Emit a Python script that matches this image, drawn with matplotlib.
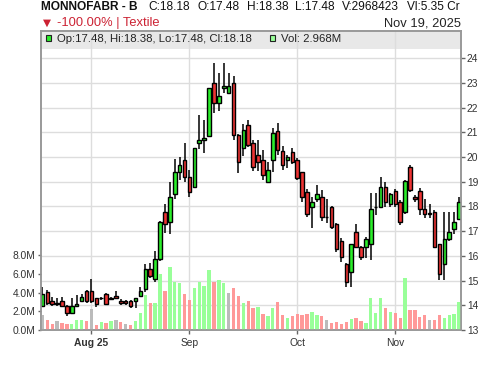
import matplotlib
matplotlib.use("Agg")
import matplotlib.pyplot as plt
from matplotlib.patches import Rectangle
from matplotlib.ticker import FixedLocator, FuncFormatter
import numpy as np

plt.rcParams['font.family'] = ['Liberation Sans', 'DejaVu Sans']

# ---------------- data ----------------
opens = [13.97, 14.55, 14.16, 14.08, 14.17, 13.97, 13.67, 13.97, 14.17, 14.57,
         14.57, 14.28, 14.28, 14.44, 14.27, 14.38, 14.16, 14.16, 14.16, 14.16,
         14.38, 14.65, 15.46, 15.05, 15.86, 17.76, 17.36, 18.50, 19.38, 19.87,
         19.18, 18.78, 20.56, 20.67, 20.87, 22.99, 22.18, 22.78, 22.58, 22.99,
         20.88, 20.35, 21.29, 20.56, 20.07, 19.87, 18.98, 19.87, 21.07, 20.26,
         19.87, 20.19, 19.87, 19.38, 18.57, 17.97, 18.29, 18.37, 17.57, 17.97,
         17.29, 16.59, 15.67, 15.36, 16.95, 16.37, 16.37, 16.47, 17.96, 17.97,
         18.78, 18.10, 18.64, 18.17, 17.76, 19.59, 18.37, 18.64, 17.89, 17.75,
         17.79, 16.47, 15.67, 16.67, 17.08, 17.48]
highs = [14.75, 14.62, 14.35, 14.30, 14.33, 14.00, 14.30, 14.40, 14.45, 14.62,
         15.05, 14.30, 14.35, 14.50, 14.33, 14.58, 14.25, 14.20, 14.20, 14.30,
         14.75, 15.66, 15.72, 16.20, 17.40, 18.10, 18.98, 19.90, 19.99, 20.56,
         19.48, 20.38, 21.70, 21.50, 22.80, 23.82, 23.39, 23.82, 23.42, 23.28,
         20.95, 21.35, 21.50, 20.67, 20.69, 20.29, 19.80, 21.16, 21.37, 20.45,
         20.10, 20.35, 19.95, 19.40, 18.70, 18.40, 18.87, 18.67, 18.30, 18.00,
         17.35, 16.71, 15.70, 16.50, 17.29, 16.40, 16.75, 18.53, 18.53, 19.20,
         19.00, 18.55, 18.70, 18.25, 19.08, 19.68, 18.45, 18.75, 18.29, 18.10,
         17.85, 16.50, 17.76, 17.76, 17.76, 18.38]
lows = [13.93, 14.02, 13.99, 13.97, 13.95, 13.55, 13.67, 13.95, 14.15, 14.10,
        14.10, 13.94, 14.20, 14.00, 14.22, 14.25, 14.00, 14.00, 13.88, 13.88,
        14.35, 14.55, 15.10, 14.96, 15.80, 16.94, 16.87, 18.29, 19.05, 18.98,
        18.37, 18.75, 20.33, 20.18, 20.80, 21.77, 21.88, 22.58, 22.55, 20.67,
        19.37, 20.06, 20.40, 19.45, 19.45, 19.05, 18.98, 19.38, 20.09, 19.48,
        19.55, 19.70, 19.07, 18.16, 17.59, 17.14, 18.20, 17.40, 17.35, 17.10,
        16.17, 15.77, 14.75, 14.75, 16.30, 15.83, 15.92, 15.84, 17.65, 17.95,
        17.97, 17.97, 17.97, 17.26, 17.70, 18.60, 18.20, 17.66, 17.52, 17.52,
        16.30, 15.02, 15.02, 16.60, 16.89, 17.48]
closes = [14.44, 14.08, 14.07, 14.07, 13.97, 13.67, 13.97, 14.05, 14.35, 14.17,
          14.17, 14.05, 14.30, 14.05, 14.28, 14.28, 14.08, 14.08, 13.97, 14.28,
          14.58, 15.46, 15.19, 15.86, 17.36, 17.29, 18.37, 19.38, 19.67, 19.18,
          18.57, 20.35, 20.69, 20.76, 22.78, 22.18, 22.46, 22.86, 22.86, 20.88,
          19.79, 21.08, 20.48, 19.59, 19.79, 19.26, 19.46, 20.96, 20.29, 19.67,
          19.99, 19.79, 19.17, 18.37, 17.68, 18.17, 18.49, 17.56, 17.56, 17.16,
          16.27, 15.94, 14.96, 16.47, 16.37, 15.94, 16.67, 17.89, 17.97, 18.78,
          18.17, 18.49, 18.10, 17.36, 19.05, 18.67, 18.29, 17.89, 17.70, 17.70,
          16.37, 15.27, 16.67, 16.98, 17.39, 18.18]
volumes_m = [1.62, 1.07, 0.64, 0.96, 0.78, 0.68, 0.66, 1.07, 1.07, 0.96,
             2.24, 0.55, 0.85, 0.76, 0.98, 1.07, 0.85, 0.64, 0.55, 0.96,
             1.81, 3.71, 2.90, 2.90, 5.98, 4.16, 6.74, 5.14, 5.03, 3.84,
             3.20, 4.50, 5.17, 4.65, 6.40, 5.14, 5.33, 5.03, 3.96, 4.50,
             3.65, 2.90, 3.09, 2.33, 2.43, 1.71, 1.49, 2.33, 3.00, 1.60,
             1.26, 1.49, 1.71, 1.60, 1.71, 1.92, 1.60, 1.49, 1.07, 0.78,
             0.87, 0.64, 0.87, 1.17, 1.28, 0.98, 0.75, 3.41, 1.81, 3.41,
             2.35, 1.92, 1.81, 1.28, 5.55, 2.13, 2.13, 1.39, 1.60, 1.07,
             1.07, 1.60, 1.28, 1.60, 1.71, 2.968]
month_tick_index = [10, 30, 52, 72]
month_tick_labels = ["Aug 25", "Sep", "Oct", "Nov"]
price_ticks = [13, 14, 15, 16, 17, 18, 19, 20, 21, 22, 23, 24]
volume_ticks = [0, 2, 4, 6, 8]

symbol = "MONNOFABR - B"
last_volume = 2968423
value_cr = "5.35"
change_text = "-100.00% | Textile"
date_text = "Nov 19, 2025"

# ---------------- figure ----------------
W, H = 500, 366
fig = plt.figure(figsize=(W / 100, H / 100), dpi=100)
L, R, T, B = 40.7, 460.7, 31, 330
ax = fig.add_axes([L / W, 1 - B / H, (R - L) / W, (B - T) / H])
axv = ax.twinx()

n = len(closes)
x = np.arange(n)
o = np.array(opens); c = np.array(closes); h = np.array(highs); l = np.array(lows)
v = np.array(volumes_m)

GREEN = '#2bee2b'
RED = '#ee3333'
VGREEN = '#99ff99'
VRED = '#ff9999'
VGREY = '#bbbbbb'

# volume bars
vcols = [VGREY]
for i in range(1, n):
    d = c[i] - c[i - 1]
    vcols.append(VGREY if abs(d) < 0.005 else (VGREEN if d > 0 else VRED))
axv.bar(x, v, width=0.68, color=vcols, linewidth=0, zorder=2)

# candles
ax.vlines(x, l, h, color='black', linewidth=1.1, zorder=3)
bot = np.minimum(o, c)
hgt = np.maximum(np.abs(c - o), 0.025)
ccols = [GREEN if c[i] >= o[i] else RED for i in range(n)]
ax.bar(x, hgt, bottom=bot, width=0.72, color=ccols, edgecolor='black',
       linewidth=1.0, zorder=4)

ax.set_xlim(-0.35, 85.35)
ax.set_ylim(13, 25.1)
axv.set_ylim(0, 31.9)

# grid
ax.set_axisbelow(True)
ax.yaxis.set_major_locator(FixedLocator(price_ticks))
ax.xaxis.set_major_locator(FixedLocator(month_tick_index))
ax.set_xticklabels(month_tick_labels)
ax.grid(True, color='#dddddd', linewidth=1.0)
ax.yaxis.tick_right()
axv.yaxis.tick_left()
axv.yaxis.set_major_locator(FixedLocator(volume_ticks))
axv.yaxis.set_major_formatter(FuncFormatter(lambda val, pos: f"{val:.1f}M"))
axv.grid(False)

for a in (ax, axv):
    for s in a.spines.values():
        s.set_color('#999999')
        s.set_linewidth(1.2)
ax.tick_params(axis='y', right=True, left=False, labelright=True, labelleft=False,
               length=3, width=1, color='#666666', pad=1.5, labelsize=7.4,
               labelcolor='#333333')
ax.tick_params(axis='x', length=3, width=1, color='#666666', pad=2.5,
               labelsize=7.4, labelcolor='#333333')
axv.tick_params(axis='y', left=True, right=False, labelleft=True, labelright=False,
                length=2.5, width=1, color='#666666', pad=1, labelsize=7.4,
                labelcolor='#333333')
ax.get_xticklabels()[0].set_fontweight('bold')

# legend band
band_h = 18 / (B - T)
ax.add_patch(Rectangle((0, 1 - band_h), 1, band_h, transform=ax.transAxes,
                       facecolor='#e8e8e8', edgecolor='none', zorder=0.3))

def fx(px):
    return px / W

def fy(py):
    return 1 - py / H

fig.patches.append(Rectangle((fx(45.7), fy(40.5)), 5 / W, 5 / H, transform=fig.transFigure,
                             facecolor=GREEN, edgecolor='#222222', linewidth=0.8))
fig.text(fx(57), fy(41.7), f"Op:{opens[-1]:.2f}, Hi:{highs[-1]:.2f}, Lo:{lows[-1]:.2f}, Cl:{closes[-1]:.2f}",
         fontsize=8.2, color='#222222', va='baseline')
fig.patches.append(Rectangle((fx(269.5), fy(40.5)), 5 / W, 5 / H, transform=fig.transFigure,
                             facecolor=VGREEN, edgecolor='#222222', linewidth=0.8))
fig.text(fx(280.7), fy(41.7), f"Vol: {volumes_m[-1]:.3f}M", fontsize=8.2,
         color='#222222', va='baseline')

# header
fig.text(fx(40.7), fy(10.5), symbol, fontsize=8.6, fontweight='bold',
         color='#111111', va='baseline')
hdr = [(148.3, f"C:{closes[-1]:.2f}"), (197.7, f"O:{opens[-1]:.2f}"),
       (246.7, f"H:{highs[-1]:.2f}"), (295.0, f"L:{lows[-1]:.2f}"),
       (341.7, f"V:{last_volume}"), (407.3, f"Vl:{value_cr} Cr")]
for px, s in hdr:
    fig.text(fx(px), fy(10.5), s, fontsize=8.6, color='#111111', va='baseline')

fig.text(fx(43), fy(26), "▼", fontsize=7.5, color='#cc2233', va='baseline',
         family=['DejaVu Sans'])
fig.text(fx(56.7), fy(26), change_text, fontsize=9.3, color='#cc2233', va='baseline')
fig.text(fx(460.7), fy(26), date_text, fontsize=9.3, color='#222222',
         va='baseline', ha='right')

fig.savefig('out.png', dpi=100)
